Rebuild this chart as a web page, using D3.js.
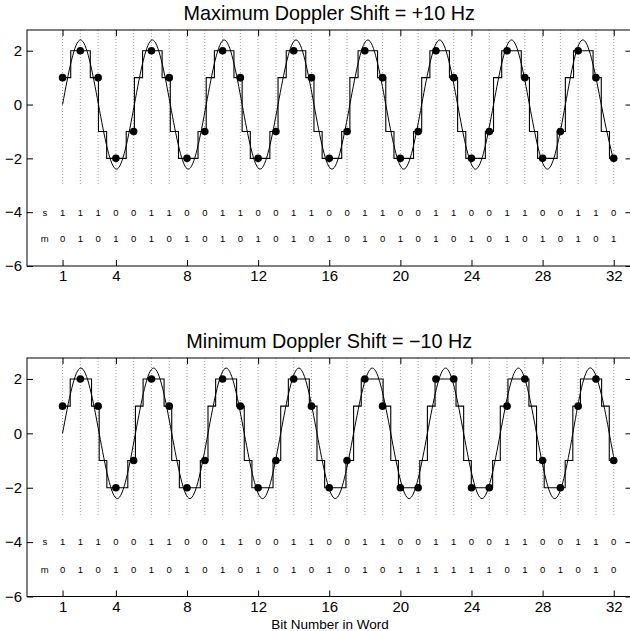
<!DOCTYPE html>
<html>
<head>
<meta charset="utf-8">
<script src="https://cdn.jsdelivr.net/npm/d3@7"></script>
<style>
  body { margin: 0; background: #fff; }
  text { font-family: "Liberation Sans", Arial, sans-serif; fill: #000; }
</style>
</head>
<body>
<div id="my_dataviz"></div>
<script>
// bit positions and tick values
var bits = d3.range(1, 33);
var xTicks = [1, 4, 8, 12, 16, 20, 24, 28, 32];
var yTicks = [-6, -4, -2, 0, 2];

// bit rows printed under the curves
var sBits = [1,1,1,0,0,1,1,0,0,1,1,0,0,1,1,0,0,1,1,0,0,1,1,0,0,1,1,0,0,1,1,0];
var mBitsTop = [0,1,0,1,0,1,0,1,0,1,0,1,0,1,0,1,0,1,0,1,0,1,0,1,0,1,0,1,0,1,0,1];
var mBitsBottom = [0,1,0,1,0,1,0,1,0,1,0,1,0,1,0,1,0,1,0,1,1,1,1,1,1,0,1,0,1,0,1,0];

// sampled values at each bit (the dots)
var dotsTop = [1,2,1,-2,-1,2,1,-2,-1,2,1,-2,-1,2,1,-2,-1,2,1,-2,-1,2,1,-2,-1,2,1,-2,-1,2,1,-2];
var dotsBottom = [1,2,1,-2,-1,2,1,-2,-1,2,1,-2,-1,2,1,-2,-1,2,1,-2,-2,2,2,-2,-2,1,2,-1,-2,1,2,-1];

// sinusoid: zero crossings and extrema
var sineTop = [[1,0],[2.01,2.4],[3.02,0],[4.03,-2.4],[5.04,0],[6.05,2.4],[7.06,0],[8.07,-2.4],
  [9.08,0],[10.09,2.4],[11.10,0],[12.11,-2.4],[13.12,0],[14.13,2.4],[15.14,0],[16.15,-2.4],
  [17.16,0],[18.17,2.4],[19.18,0],[20.19,-2.4],[21.20,0],[22.21,2.4],[23.22,0],[24.23,-2.4],
  [25.24,0],[26.25,2.4],[27.26,0],[28.27,-2.4],[29.28,0],[30.29,2.4],[31.30,0],[32,-2.1]];
var sineBottom = [[1,0],[2.03,2.4],[3.06,0],[4.08,-2.4],[5.10,0],[6.12,2.4],[7.14,0],[8.16,-2.4],
  [9.18,0],[10.20,2.4],[11.22,0],[12.25,-2.4],[13.27,0],[14.29,2.4],[15.31,0],[16.34,-2.4],
  [17.37,0],[18.42,2.4],[19.46,0],[20.49,-2.4],[21.52,0],[22.54,2.4],[23.56,0],[24.59,-2.4],
  [25.62,0],[26.64,2.4],[27.66,0],[28.68,-2.4],[29.70,0],[30.73,2.4],[31.75,0],[32,-0.9]];

// staircase: [start bit, level]
var stairTop = [[1,1],[1.46,2],[2.56,1],[3.02,-1],[3.48,-2],[4.58,-1],[5.04,1],[5.50,2],[6.60,1],
  [7.06,-1],[7.52,-2],[8.62,-1],[9.08,1],[9.54,2],[10.64,1],[11.10,-1],[11.56,-2],[12.66,-1],
  [13.12,1],[13.58,2],[14.68,1],[15.14,-1],[15.60,-2],[16.70,-1],[17.16,1],[17.62,2],[18.72,1],
  [19.18,-1],[19.64,-2],[20.74,-1],[21.20,1],[21.66,2],[22.76,1],[23.22,-1],[23.68,-2],[24.78,-1],
  [25.24,1],[25.70,2],[26.80,1],[27.26,-1],[27.72,-2],[28.82,-1],[29.28,1],[29.74,2],[30.84,1],
  [31.30,-1],[31.76,-2],[32,-2]];
var stairBottom = [[1,1],[1.43,2],[2.63,1],[3.06,-1],[3.49,-2],[4.67,-1],[5.10,1],[5.53,2],[6.71,1],
  [7.14,-1],[7.57,-2],[8.75,-1],[9.18,1],[9.61,2],[10.79,1],[11.22,-1],[11.65,-2],[12.84,-1],
  [13.27,1],[13.70,2],[14.88,1],[15.31,-1],[15.74,-2],[16.94,-1],[17.37,1],[17.80,2],[19.03,1],
  [19.46,-1],[19.89,-2],[21.09,-1],[21.52,1],[21.95,2],[23.13,1],[23.56,-1],[23.99,-2],[25.19,-1],
  [25.62,1],[26.05,2],[27.23,1],[27.66,-1],[28.09,-2],[29.27,-1],[29.70,1],[30.13,2],[31.32,1],
  [31.75,-1],[32,-1]];

var width = 630, height = 631;

var svg = d3.select("#my_dataviz")
  .append("svg")
    .attr("width", width)
    .attr("height", height);

var x = d3.scaleLinear()
  .domain([-1, 33])
  .range([27, 631.5]);

function panel(title, yTop, yBottom, sine, stair, dots, mBits) {
  var y = d3.scaleLinear()
    .domain([-6, 2.77])
    .range([yBottom, yTop]);

  var g = svg.append("g");

  // dotted vertical guides at every bit
  g.selectAll(".guide")
    .data(bits)
    .enter()
    .append("line")
      .attr("x1", function(d) { return x(d); })
      .attr("x2", function(d) { return x(d); })
      .attr("y1", y(2.77))
      .attr("y2", y(-3))
      .attr("stroke", "#888")
      .attr("stroke-width", 0.8)
      .attr("stroke-dasharray", "1,2");

  // sinusoid
  g.append("path")
    .datum(sine)
    .attr("fill", "none")
    .attr("stroke", "#000")
    .attr("stroke-width", 1)
    .attr("d", d3.line()
      .x(function(d) { return x(d[0]); })
      .y(function(d) { return y(d[1]); })
      .curve(d3.curveNatural));

  // staircase
  g.append("path")
    .datum(stair)
    .attr("fill", "none")
    .attr("stroke", "#000")
    .attr("stroke-width", 1.1)
    .attr("d", d3.line()
      .x(function(d) { return x(d[0]); })
      .y(function(d) { return y(d[1]); })
      .curve(d3.curveStepAfter));

  // samples
  g.selectAll(".dot")
    .data(dots)
    .enter()
    .append("circle")
      .attr("cx", function(d, i) { return x(bits[i]); })
      .attr("cy", function(d) { return y(d); })
      .attr("r", 3.8)
      .attr("fill", "#000");

  // bit rows
  var rows = [["s", sBits, -4], ["m", mBits, -5]];
  rows.forEach(function(r) {
    g.append("text")
      .attr("x", x(0))
      .attr("y", y(r[2]))
      .attr("dy", "0.35em")
      .attr("text-anchor", "middle")
      .attr("font-size", 9.5)
      .text(r[0]);
    g.selectAll(".row" + r[0])
      .data(r[1])
      .enter()
      .append("text")
        .attr("x", function(d, i) { return x(bits[i]); })
        .attr("y", y(r[2]))
        .attr("dy", "0.35em")
        .attr("text-anchor", "middle")
        .attr("font-size", 9.5)
        .text(function(d) { return d; });
  });

  // box
  g.append("rect")
    .attr("x", x(-1))
    .attr("y", yTop)
    .attr("width", x(33) - x(-1))
    .attr("height", yBottom - yTop)
    .attr("fill", "none")
    .attr("stroke", "#000")
    .attr("stroke-width", 1);

  var axB = g.append("g")
    .attr("transform", "translate(0," + yBottom + ")")
    .call(d3.axisBottom(x).tickValues(xTicks).tickSize(-6).tickPadding(4.5).tickFormat(d3.format("d")));
  var axT = g.append("g")
    .attr("transform", "translate(0," + yTop + ")")
    .call(d3.axisTop(x).tickValues(xTicks).tickSize(-6).tickFormat(""));
  var axL = g.append("g")
    .attr("transform", "translate(" + x(-1) + ",0)")
    .call(d3.axisLeft(y).tickValues(yTicks).tickSize(-6).tickPadding(5));
  var axR = g.append("g")
    .attr("transform", "translate(" + x(33) + ",0)")
    .call(d3.axisRight(y).tickValues(yTicks).tickSize(-6).tickFormat(""));

  [axB, axT, axL, axR].forEach(function(a) {
    a.select(".domain").remove();
    a.selectAll(".tick line").attr("stroke", "#000");
    a.selectAll(".tick text")
      .attr("font-size", 15)
      .attr("font-family", "Liberation Sans, Arial, sans-serif")
      .attr("fill", "#000");
  });

  g.append("text")
    .attr("x", (x(-1) + x(33)) / 2)
    .attr("y", yTop - 10)
    .attr("text-anchor", "middle")
    .attr("font-size", 19.8)
    .text(title);

  return y;
}

panel("Maximum Doppler Shift = +10 Hz", 30, 266, sineTop, stairTop, dotsTop, mBitsTop);
panel("Minimum Doppler Shift = \u221210 Hz", 358, 596.5, sineBottom, stairBottom, dotsBottom, mBitsBottom);

svg.append("text")
  .attr("x", 330)
  .attr("y", 628.5)
  .attr("text-anchor", "middle")
  .attr("font-size", 13.5)
  .text("Bit Number in Word");
</script>
</body>
</html>
